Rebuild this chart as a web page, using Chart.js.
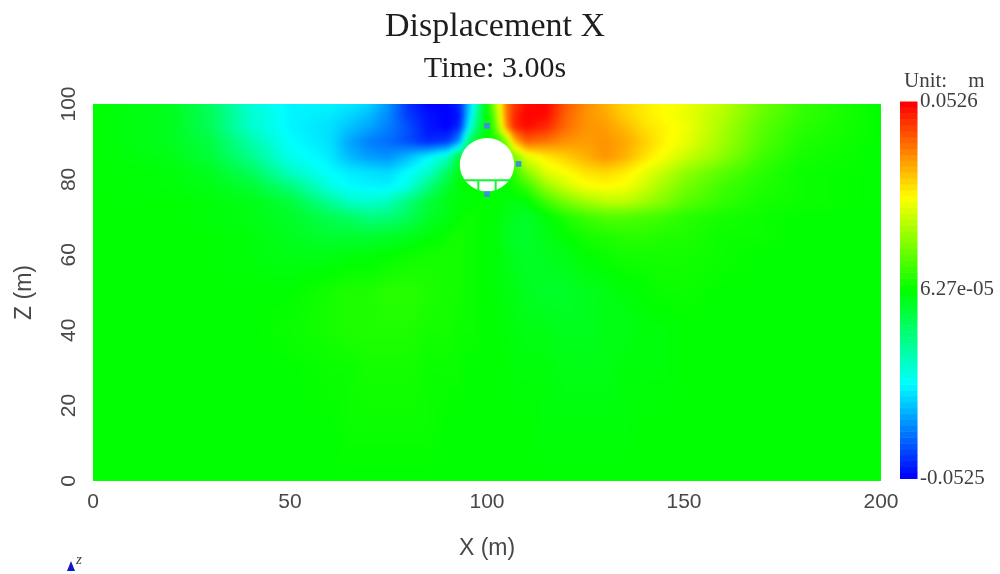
<!DOCTYPE html>
<html><head><meta charset="utf-8">
<style>html,body{margin:0;padding:0;background:#fff}canvas{display:block}</style>
<script src="https://cdn.jsdelivr.net/npm/chart.js@4"></script></head>
<body><canvas id="c" width="1000" height="574"></canvas>
<script>
// Displacement X, in millimetres, at these nodes
const xNodes=[0,20,30,40,50,60,65,70,75,80,85,90,93,95,97,99,100,101,103,105,107,110,115,120,125,130,135,140,145,150,160,170,180,200];
const zNodes=[100,97,94,90,86,82,78,74,70,65,60,50,40,30,15,0];
const z100=[0,-3,-10,-22,-27,-27,-28,-30,-37,-47,-52,-52,-48,-35,-22,-6,0,8,24,40,46,51,52,43,38,34,30,28,26,25,19,11,5,0];
const z97=[0,-3,-9,-21,-27,-28,-30,-33,-38,-46,-50,-52,-50,-34,-18,-5,0,4,21,40,48,52,51,42,37,35,31,28,26,24,18,10,5,0];
const z94=[0,-3,-9,-21,-27,-29,-32,-35,-39,-44,-50,-52,-48,-30,-14,-4,0,2,18,38,48,51,48,41,37,36,33,29,27,25,17,9,4,0];
const z90=[0,-3,-7,-17,-26,-29,-35,-39,-41,-44,-48,-46,-36,-14,-3,-1,0,1,3,14,33,42,40,37,36,37,35,31,27,24,16,8,3,0];
const z86=[0,-2,-6,-14,-24,-28,-33,-36,-37,-33,-27,-20,-5,-2,-1,0,0,0,1,6,12,23,28,31,34,37,34,29,25,21,14,6,2,0];
const z82=[0,-1,-3,-9,-20,-26,-28,-29,-30,-26,-21,-10,-2,-1,0,0,0,0,0,2,5,14,23,26,29,30,28,24,20,15,9,4,1,0];
const z78=[0,-1,-2,-5,-12,-23,-26,-27,-27,-23,-13,-4,-1,0,0,0,0,0,0,0,2,5,15,21,25,26,25,21,16,12,6,3,1,0];
const z74=[0,0,-1,-2,-6,-15,-20,-21,-19,-12,-6,-2,-1,-1,0,0,0,0,0,-1,-2,-1,6,12,16,19,19,16,13,9,5,2,1,0];
const z70=[0,0,-1,-2,-4,-8,-10,-13,-12,-9,-4,-2,0,1,1,0,0,0,-1,-2,-3,-4,-1,3,6,8,8,7,6,4,2,1,0,0];
const z65=[0,0,0,-1,-3,-5,-5,-5,-4,-3,-1,1,2,1,1,0,0,0,-1,-3,-4,-4,-2,0,2,3,4,4,3,3,1,1,0,0];
const z60=[0,0,0,-1,-2,-2,-1,-1,0,1,2,2,2,1,1,0,0,0,-1,-2,-3,-4,-3,-2,0,1,2,2,2,2,1,0,0,0];
const z50=[0,0,0,0,0,2,3,3,4,4,3,2,2,1,1,0,0,0,-1,-1,-2,-3,-4,-4,-3,-2,-1,0,1,1,0,0,0,0];
const z40=[0,0,0,0,1,2,3,3,3,3,2,2,1,1,1,0,0,0,0,-1,-1,-2,-2,-3,-3,-2,-2,-1,-1,0,0,0,0,0];
const z30=[0,0,0,0,0,1,1,2,2,2,1,1,1,0,0,0,0,0,0,0,-1,-1,-1,-2,-2,-2,-1,-1,-1,0,0,0,0,0];
const z15=[0,0,0,0,0,0,1,1,1,1,1,0,0,0,0,0,0,0,0,0,0,0,-1,-1,-1,-1,-1,0,0,0,0,0,0,0];
const z0=[0,0,0,0,0,0,0,0,0,0,0,0,0,0,0,0,0,0,0,0,0,0,0,0,0,0,0,0,0,0,0,0,0,0];
const field=[z100,z97,z94,z90,z86,z82,z78,z74,z70,z65,z60,z50,z40,z30,z15,z0];
// Monitoring markers (x, z in metres)
const markerX=[100,108,100];
const markerZ=[94.2,84.1,76.1];
// Tunnel outline in metres
const tunnelX=100, tunnelZ=83.9, tunnelRX=6.9, tunnelRZ=7.1;
const invertZ=79.8, invertWallsX=[97.8,102.2];
// Colour bar
const barTicks=[-0.0525,0.0000627,0.0526];
const barLabels=['-0.0525','6.27e-05','0.0526'];
const barSteps=64, barMaxMm=52;

const SERIF='"Liberation Serif"', SANS='"Liberation Sans"', TICK='#484848';

function jet(v){
  const u=Math.max(-1,Math.min(1,v/barMaxMm));
  if(u<-0.5)return [0,255*(u+1)/0.5,255];
  if(u<0)return [0,255,255*(-u)/0.5];
  if(u<0.5)return [255*u/0.5,255,0];
  return [255,255*(1-u)/0.5,0];
}
function bracket(nodes,v){
  for(let i=0;i<nodes.length-1;i++){
    const a=nodes[i],b=nodes[i+1];
    if((v>=a&&v<=b)||(v<=a&&v>=b))return [i,(v-a)/(b-a)];
  }
  return v<nodes[0]===nodes[0]<nodes[1]?[0,0]:[nodes.length-2,1];
}
const fieldPlugin={
  id:'field',
  beforeDatasetsDraw(chart){
    const {ctx,chartArea:a,scales:{x,y}}=chart;
    const W=Math.round(a.right-a.left),H=Math.round(a.bottom-a.top);
    const off=document.createElement('canvas');off.width=W;off.height=H;
    const oc=off.getContext('2d'),img=oc.createImageData(W,H);
    const cols=[];for(let i=0;i<W;i++)cols.push(bracket(xNodes,x.getValueForPixel(a.left+i+0.5)));
    for(let j=0;j<H;j++){
      const [r,fr]=bracket(zNodes,y.getValueForPixel(a.top+j+0.5));
      const A=field[r],B=field[r+1];
      for(let i=0;i<W;i++){
        const [c,fc]=cols[i];
        const top=A[c]*(1-fc)+A[c+1]*fc,bot=B[c]*(1-fc)+B[c+1]*fc;
        const col=jet(top*(1-fr)+bot*fr),k=(j*W+i)*4;
        img.data[k]=col[0];img.data[k+1]=col[1];img.data[k+2]=col[2];img.data[k+3]=255;
      }
    }
    oc.putImageData(img,0,0);
    ctx.save();
    ctx.drawImage(off,a.left,a.top);
    ctx.beginPath();ctx.rect(a.left,a.top,W,H);ctx.clip();
    ctx.filter='blur(2px)';ctx.drawImage(off,a.left,a.top);ctx.filter='none';
    // tunnel opening
    const cx=x.getPixelForValue(tunnelX),cy=y.getPixelForValue(tunnelZ);
    const rx=x.getPixelForValue(tunnelX+tunnelRX)-cx,ry=y.getPixelForValue(tunnelZ-tunnelRZ)-cy;
    ctx.fillStyle='#fff';
    ctx.beginPath();ctx.ellipse(cx,cy,rx,ry,0,0,Math.PI*2);ctx.fill();
    ctx.strokeStyle='#10f830';ctx.lineWidth=2;
    const iy=y.getPixelForValue(invertZ);
    ctx.save();
    ctx.beginPath();ctx.ellipse(cx,cy,rx+1,ry+1,0,0,Math.PI*2);ctx.clip();
    ctx.beginPath();ctx.moveTo(cx-rx-2,iy);ctx.lineTo(cx+rx+2,iy);
    invertWallsX.forEach(v=>{const p=x.getPixelForValue(v);ctx.moveTo(p,iy);ctx.lineTo(p,cy+ry+2);});
    ctx.stroke();
    ctx.restore();
    ctx.restore();
  },
  afterDraw(chart){
    const {ctx,scales:{y2}}=chart;
    ctx.save();
    // colour bar, drawn on the bar scale
    const shift=-2.5;
    for(let i=0;i<barSteps;i++){
      const lo=barTicks[0]+(barTicks[2]-barTicks[0])*i/barSteps;
      const hi=barTicks[0]+(barTicks[2]-barTicks[0])*(i+1)/barSteps;
      const mid=(lo+hi)/2*1000;
      const c=jet(mid);
      ctx.fillStyle=`rgb(${c[0]|0},${c[1]|0},${c[2]|0})`;
      const p0=y2.getPixelForValue(hi)+shift,p1=y2.getPixelForValue(lo)+shift;
      ctx.fillRect(900,p0,17.5,p1-p0+0.5);
    }
    ctx.fillStyle='#404040';ctx.textBaseline='middle';ctx.textAlign='left';
    ctx.font='21px '+SERIF;
    ctx.fillText('Unit:    m',904,81);
    // z axis triad
    ctx.fillStyle='#1414c8';
    ctx.beginPath();ctx.moveTo(71,561);ctx.lineTo(75,571);ctx.lineTo(67,571);ctx.closePath();ctx.fill();
    ctx.fillStyle='#404040';ctx.textAlign='left';ctx.font='italic 15px '+SERIF;
    ctx.fillText('z',76,560);
    ctx.restore();
  }
};
new Chart(document.getElementById('c'),{
  type:'scatter',
  data:{datasets:[{
    label:'Monitoring points',
    data:markerX.map((v,i)=>({x:v,y:markerZ[i]})),
    pointStyle:'rect',pointRadius:4,pointBackgroundColor:'#3f90d8',pointBorderWidth:0,showLine:false
  }]},
  plugins:[fieldPlugin],
  options:{
    responsive:false,animation:false,devicePixelRatio:1,
    layout:{padding:{left:-10,right:0,top:0,bottom:0}},
    plugins:{
      legend:{display:false},tooltip:{enabled:false},
      title:{display:true,text:'Displacement X',color:'#1e1e1e',font:{family:SERIF,size:34,weight:'normal'},padding:{top:7,bottom:0}},
      subtitle:{display:true,text:'Time: 3.00s',color:'#1e1e1e',font:{family:SERIF,size:30,weight:'normal'},padding:{top:3,bottom:17.2}}
    },
    scales:{
      x:{type:'linear',min:0,max:200,
        grid:{display:false,drawTicks:false},border:{display:false},
        ticks:{stepSize:50,padding:9,maxRotation:0,color:TICK,font:{family:SANS,size:21}},
        title:{display:true,text:'X (m)',color:TICK,font:{family:SANS,size:23},padding:{top:0,bottom:12}},
        afterFit(s){s.height=93;}},
      y:{type:'linear',min:0,max:100,
        grid:{display:false,drawTicks:false},border:{display:false},
        ticks:{stepSize:20,padding:6,minRotation:90,maxRotation:90,crossAlign:'center',color:TICK,font:{family:SANS,size:21}},
        title:{display:true,text:'Z (m)',color:TICK,font:{family:SANS,size:23},padding:{top:21,bottom:0}},
        afterFit(s){s.width=103;}},
      y2:{type:'linear',position:'right',min:barTicks[0],max:barTicks[2],
        grid:{display:false,drawTicks:false},border:{display:false},
        afterBuildTicks(s){s.ticks=barTicks.map(v=>({value:v}));},
        ticks:{padding:39,labelOffset:-3,color:'#404040',font:{family:SERIF,size:21},
          callback(v){return barLabels[barTicks.indexOf(v)];}},
        afterFit(s){s.width=119;}}
    }
  }
});
</script></body></html>
